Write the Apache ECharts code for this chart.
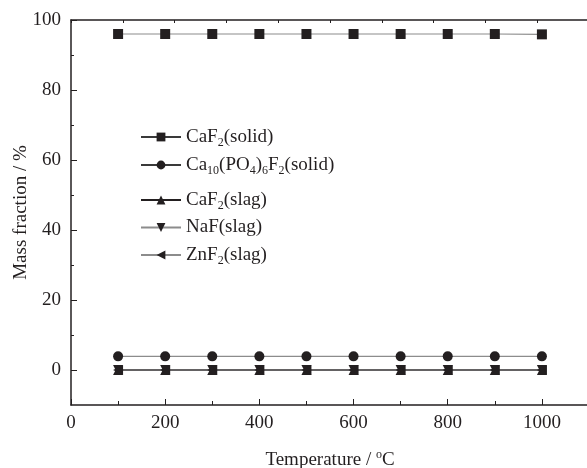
<!DOCTYPE html>
<html>
<head>
<meta charset="utf-8">
<script src="https://cdn.jsdelivr.net/npm/echarts@6/dist/echarts.min.js"></script>
<style>
	html, body { margin: 0; padding: 0; background: #fff; }
	#chart { width: 587px; height: 468px; }
</style>
</head>
<body>
<div id="chart"></div>
<script>
const temps = [100, 200, 300, 400, 500, 600, 700, 800, 900, 1000];
const caf2Solid = [96, 96, 96, 96, 96, 96, 96, 96, 96, 95.9];
const apatiteSolid = [3.9, 3.9, 3.9, 3.9, 3.9, 3.9, 3.9, 3.9, 3.9, 3.9];
const caf2Slag = [0, 0, 0, 0, 0, 0, 0, 0, 0, 0];
const nafSlag = [0, 0, 0, 0, 0, 0, 0, 0, 0, 0];
const znf2Slag = [0, 0, 0, 0, 0, 0, 0, 0, 0, 0];

const xMajor = [0, 200, 400, 600, 800, 1000];
const yMajor = [0, 20, 40, 60, 80, 100];
const yMinor = [10, 30, 50, 70, 90];

const ink = '#231f20';
const grey = '#8c8c8c';
const font = 'Liberation Serif';

// legend labels with sub/superscripts as rich text
const labels = {
	'CaF2(solid)': '{n|CaF}{s|2}{n|(solid)}',
	'Ca10(PO4)6F2(solid)': '{n|Ca}{s|10}{n|(PO}{s|4}{n|)}{s|6}{n|F}{s|2}{n|(solid)}',
	'CaF2(slag)': '{n|CaF}{s|2}{n|(slag)}',
	'NaF(slag)': '{n|NaF(slag)}',
	'ZnF2(slag)': '{n|ZnF}{s|2}{n|(slag)}'
};
const legendTops = [125, 153, 188, 218, 243];
const legendLines = ['#3a3a3a', '#3a3a3a', ink, grey, grey];

const rich = {
	n: { fontFamily: font, fontSize: 19, color: ink, lineHeight: 20 },
	s: { fontFamily: font, fontSize: 12, color: ink, lineHeight: 20, padding: [12, 0, 0, 0] }
};

function pairs(values) {
	return temps.map((t, i) => [t, values[i]]);
}

function lineSeries(name, values, symbol, rotate, color, size) {
	return {
		name: name,
		type: 'line',
		data: pairs(values),
		symbol: symbol,
		symbolRotate: rotate,
		symbolSize: size,
		itemStyle: { color: ink },
		lineStyle: { color: color, width: 1.2 },
		emphasis: { disabled: true },
		z: 3
	};
}

const chart = echarts.init(document.getElementById('chart'));

chart.setOption({
	animation: false,
	grid: { left: 71, right: -2, top: 20, bottom: 63, outerBoundsMode: 'none' },
	legend: Object.keys(labels).map((name, i) => ({
		data: [{ name: name, lineStyle: { color: legendLines[i] } }],
		orient: 'vertical',
		left: 140,
		top: legendTops[i],
		padding: 0,
		itemWidth: 40,
		itemHeight: 11,
		itemGap: 0,
		selectedMode: false,
		formatter: n => labels[n],
		textStyle: { rich: rich }
	})),
	xAxis: [{
		type: 'value',
		min: 0,
		max: 1100,
		interval: 200,
		name: 'Temperature / {sup|o}C',
		nameLocation: 'middle',
		nameGap: 44,
		nameTextStyle: {
			fontFamily: font, fontSize: 19, color: ink,
			rich: {
				sup: { fontFamily: font, fontSize: 12, color: ink, padding: [0, 0, 10, 0] }
			}
		},
		axisLine: { onZero: false, lineStyle: { color: ink, width: 1.5 } },
		axisTick: { inside: true, length: 6, lineStyle: { color: ink } },
		minorTick: { show: true, splitNumber: 2, length: 4, lineStyle: { color: ink } },
		splitLine: { show: false },
		axisLabel: {
			fontFamily: font, fontSize: 19, color: ink, margin: 9,
			customValues: xMajor,
			formatter: v => String(v)
		}
	}, {
		type: 'value',
		position: 'top',
		min: 0,
		max: 1100,
		interval: 110,
		axisLine: { onZero: false, lineStyle: { color: ink, width: 1.5 } },
		axisTick: { inside: true, length: 3, lineStyle: { color: ink } },
		axisLabel: { show: false },
		splitLine: { show: false }
	}],
	yAxis: [{
		type: 'value',
		min: -10,
		max: 100,
		interval: 10,
		name: 'Mass fraction / %',
		nameLocation: 'middle',
		nameGap: 40,
		nameMoveOverlap: false,
		nameTextStyle: { fontFamily: font, fontSize: 19, color: ink },
		axisLine: { show: true, onZero: false, lineStyle: { color: ink, width: 1.5 } },
		axisTick: { inside: true, length: 6, customValues: yMajor, lineStyle: { color: ink } },
		axisLabel: { fontFamily: font, fontSize: 19, color: ink, margin: 10, customValues: yMajor },
		splitLine: { show: false }
	}, {
		type: 'value',
		position: 'left',
		min: -10,
		max: 100,
		interval: 10,
		axisLine: { show: false, onZero: false },
		axisTick: { show: true, inside: true, length: 3, customValues: yMinor, lineStyle: { color: ink } },
		axisLabel: { show: false },
		splitLine: { show: false }
	}],
	series: [
		lineSeries('CaF2(solid)', caf2Solid, 'rect', 0, grey, 10),
		lineSeries('Ca10(PO4)6F2(solid)', apatiteSolid, 'circle', 0, grey, 10),
		lineSeries('NaF(slag)', nafSlag, 'triangle', 180, grey, 10),
		lineSeries('ZnF2(slag)', znf2Slag, 'triangle', 90, grey, 10),
		lineSeries('CaF2(slag)', caf2Slag, 'triangle', 0, ink, 10)
	]
});

window.addEventListener('resize', () => chart.resize());
</script>
</body>
</html>
